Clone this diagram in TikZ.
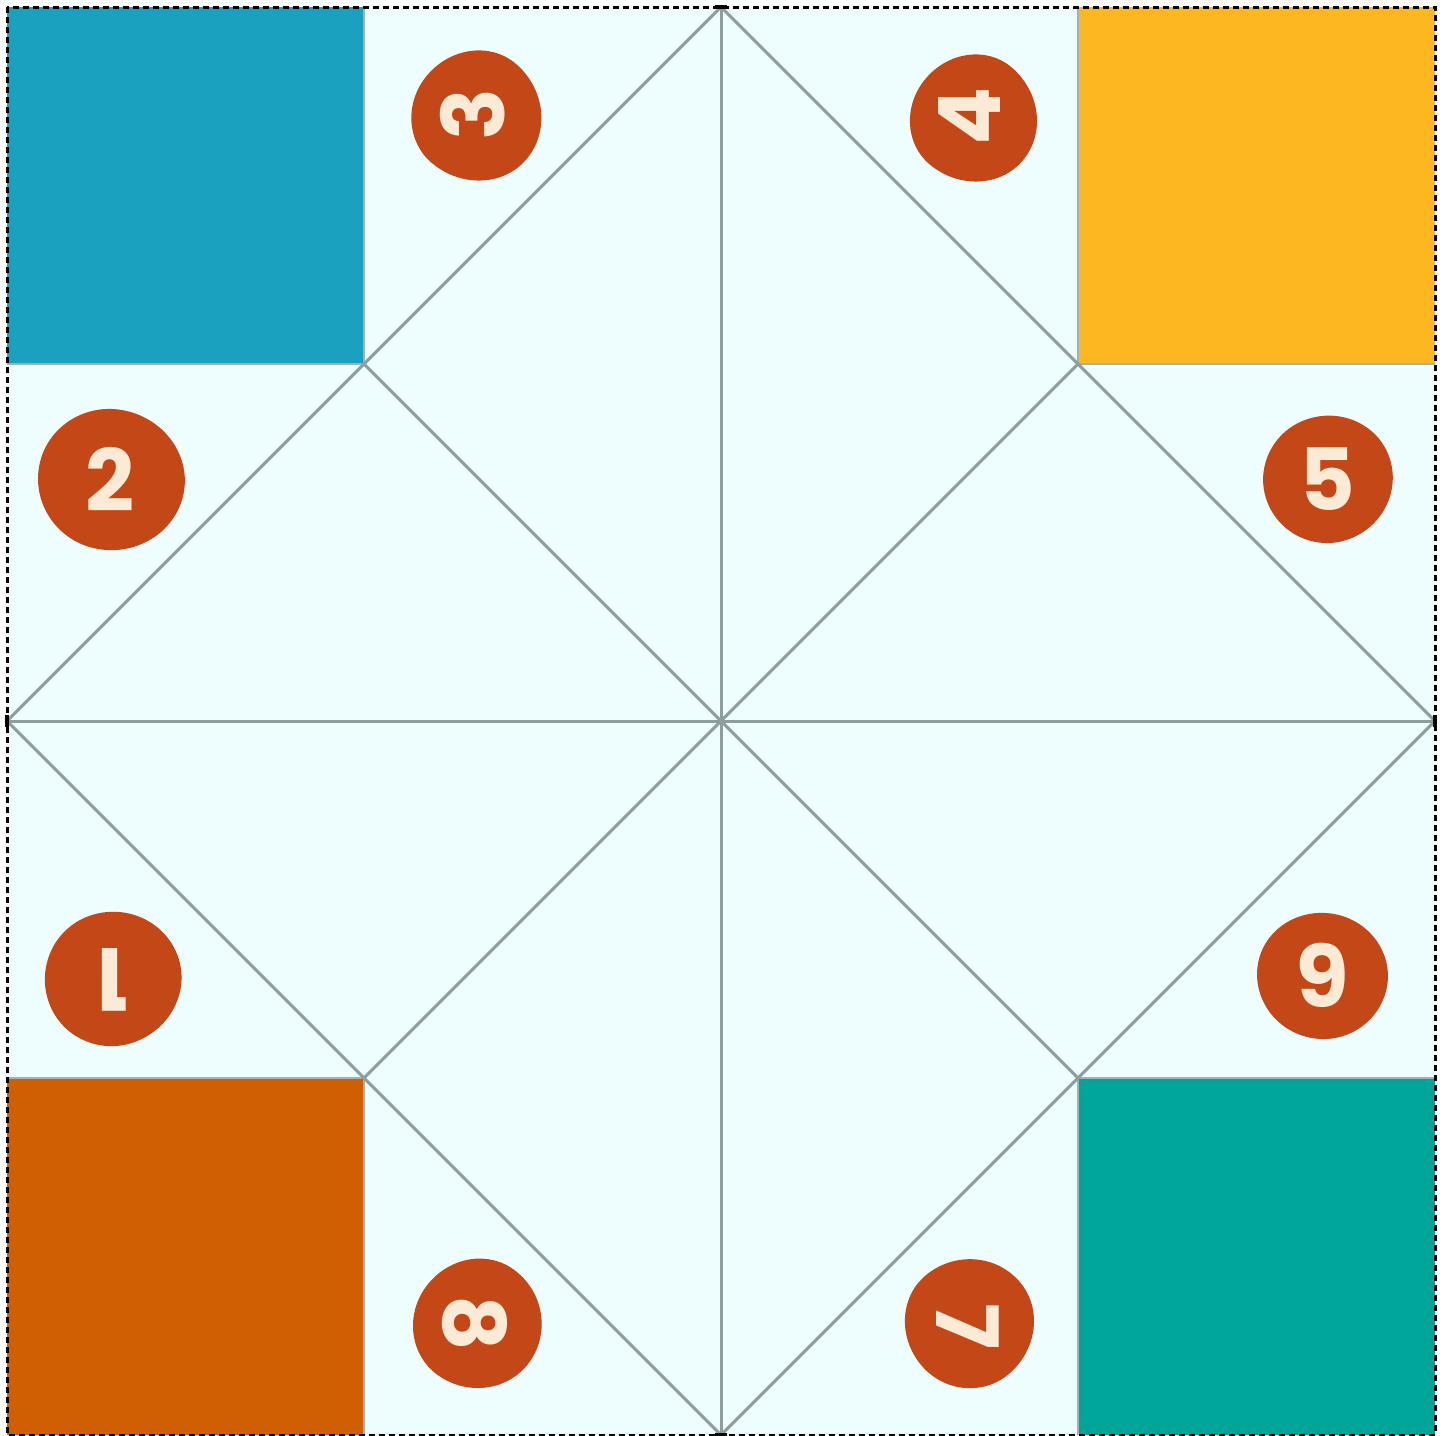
\documentclass[tikz,border=0pt]{standalone}
\usepackage{fontspec}
\newfontfamily\numfont{Poppins}
\definecolor{bg}{HTML}{EEFDFD}
\definecolor{foldgray}{HTML}{8D9E9D}
\definecolor{blobred}{HTML}{C44718}
\definecolor{cream}{HTML}{FAEAD6}
\definecolor{cblue}{HTML}{1BA1C0}
\definecolor{cyellow}{HTML}{FDB720}
\definecolor{corange}{HTML}{CF5F02}
\definecolor{cteal}{HTML}{00A59A}
% blob: right, down, left, up radii
\newcommand\myblob[4]{%
  \fill[blobred] (#1,0) .. controls (#1,0.5523*#2) and (0.5523*#1,#2) .. (0,#2)
    .. controls (-0.5523*#3,#2) and (-#3,0.5523*#2) .. (-#3,0)
    .. controls (-#3,-0.5523*#4) and (-0.5523*#3,-#4) .. (0,-#4)
    .. controls (0.5523*#1,-#4) and (#1,-0.5523*#4) .. (#1,0) -- cycle;}
\begin{document}
\begin{tikzpicture}[x=0.5pt,y=-0.5pt,
  fold/.style={draw=foldgray,line width=1.5pt},
  edgeline/.style={draw=foldgray!80,line width=1.2pt},
  digit/.style={text=cream,font=\numfont\bfseries\fontsize{43}{43}\selectfont,inner sep=0pt},
  cutline/.style={draw=black,line width=1.5pt,dash pattern=on 3pt off 2pt},
  midmark/.style={draw=black,line width=2.4pt},
]
\useasboundingbox (0,0) rectangle (1447,1436);
% key points
\coordinate (TL) at (7,7);
\coordinate (TR) at (1435,7);
\coordinate (BR) at (1435,1435);
\coordinate (BL) at (7,1435);
\coordinate (T) at (721,7);
\coordinate (R) at (1435,721);
\coordinate (B) at (721,1435);
\coordinate (L) at (7,721);
\coordinate (C) at (721,721);
\coordinate (Q1) at (364,364);
\coordinate (Q2) at (1078,364);
\coordinate (Q3) at (1078,1078);
\coordinate (Q4) at (364,1078);
% background and corner squares
\fill[bg] (TL) rectangle (BR);
\fill[cblue] (TL) rectangle (Q1);
\fill[cyellow] (1078,7) rectangle (1435,364);
\fill[corange] (7,1078) rectangle (364,1435);
\fill[cteal] (Q3) rectangle (BR);
% corner square borders
\draw[edgeline] (364,7) -- (Q1) -- (7,364);
\draw[edgeline] (1078,7) -- (Q2) -- (1435,364);
\draw[edgeline] (7,1078) -- (Q4) -- (364,1435);
\draw[edgeline] (1435,1078) -- (Q3) -- (1078,1435);
% fold lines
\draw[fold] (T) -- (B);
\draw[fold] (L) -- (R);
\draw[fold] (T) -- (R) -- (B) -- (L) -- cycle;
\draw[fold] (Q1) -- (Q3);
\draw[fold] (Q2) -- (Q4);
% blobs with numbers
\begin{scope}[shift={(473,114)},rotate=-40]
  \myblob{70}{64}{60}{66}
\end{scope}
\node[digit,rotate=90] (n3) at (473,114) {3};
\begin{scope}[shift={(970,116)},rotate=-40]
  \myblob{69}{63}{58}{64}
\end{scope}
\node[digit,rotate=90] (n4) at (970,116) {4};
\begin{scope}[shift={(110,479)},rotate=-10]
  \myblob{75}{71}{72}{70}
\end{scope}
\node[digit] (n2) at (110,479) {2};
\begin{scope}[shift={(1327,479)},rotate=20]
  \myblob{66}{64}{64}{63}
\end{scope}
\node[digit] (n5) at (1327,479) {5};
\begin{scope}[shift={(112,980)},rotate=20]
  \myblob{70}{66}{67}{68}
\end{scope}
\node[digit,rotate=180] (n1) at (112,980) {1};
\begin{scope}[shift={(1323,975)},rotate=-10]
  \myblob{65}{64}{66}{62}
\end{scope}
\node[digit,rotate=180] (n6) at (1323,975) {6};
\begin{scope}[shift={(475,1323)},rotate=-35]
  \myblob{67}{64}{61}{66}
\end{scope}
\node[digit,rotate=-90] (n8) at (475,1323) {8};
\begin{scope}[shift={(968,1326)},rotate=40]
  \myblob{68}{63}{61}{66}
\end{scope}
\node[digit,rotate=-90] (n7) at (968,1326) {7};
% cut line
\draw[cutline] (TL) rectangle (BR);
\draw[midmark] (715,7) -- (727,7);
\draw[midmark] (715,1435) -- (727,1435);
\draw[midmark] (7,715) -- (7,727);
\draw[midmark] (1435,715) -- (1435,727);
\end{tikzpicture}
\end{document}
